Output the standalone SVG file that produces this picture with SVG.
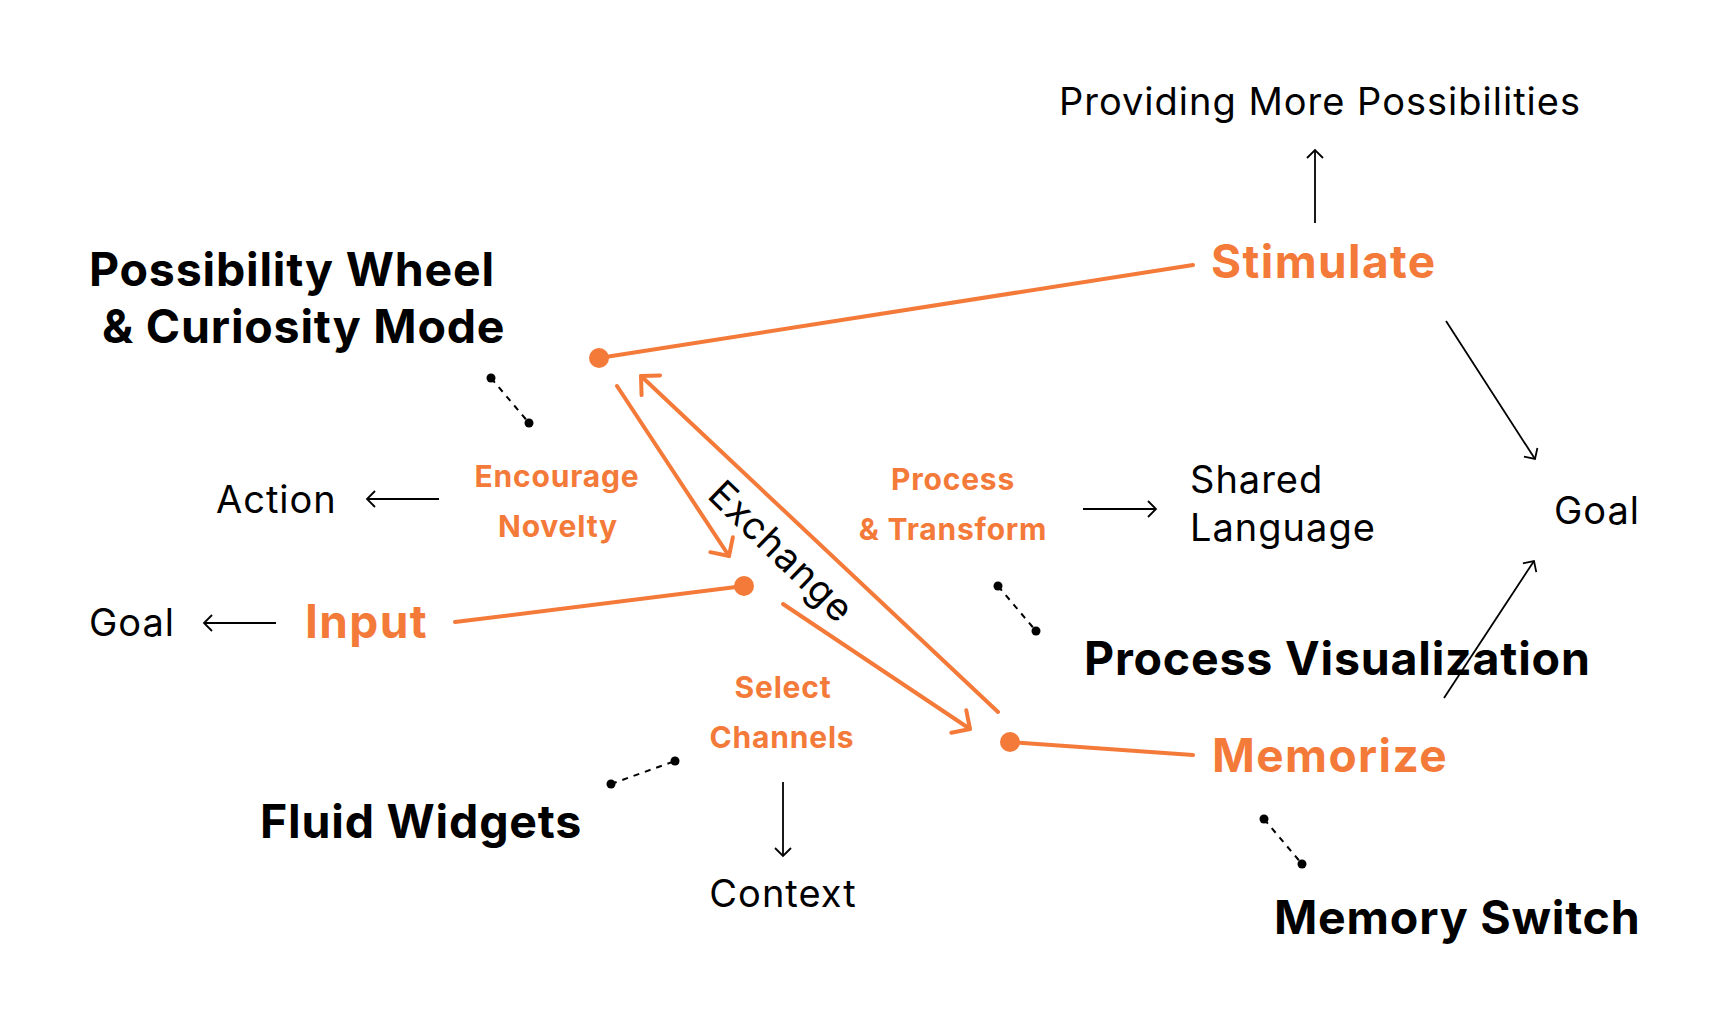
<svg xmlns="http://www.w3.org/2000/svg" width="1731" height="1022" viewBox="0 0 1731 1022">
<style>
.t{font-family:Inter,"Noto Sans","Liberation Sans",sans-serif;}
.big{font-size:46.5px;font-weight:700;fill:#000;letter-spacing:0.8px;}
.ob{font-size:46px;font-weight:700;fill:#F47A3A;letter-spacing:1.4px;}
.os{font-size:30px;font-weight:700;fill:#F47A3A;letter-spacing:0.8px;}
.n{font-size:38px;font-weight:400;fill:#000;letter-spacing:1px;}
.ol{stroke:#F47A3A;stroke-width:4;fill:none;stroke-linecap:round;}
.bl{stroke:#000;stroke-width:1.8;fill:none;}
.dl{stroke:#000;stroke-width:2;fill:none;stroke-dasharray:6 6;}
.od{fill:#F47A3A;}
.bd{fill:#000;}
.m{text-anchor:middle;}
</style>
<defs>
<marker id="ao" markerUnits="userSpaceOnUse" markerWidth="40" markerHeight="40" viewBox="-20 -20 40 40" refX="0" refY="0" orient="auto" overflow="visible">
<path d="M-13.5,-13.5 L0,0 L-13.5,13.5" fill="none" stroke="#F47A3A" stroke-width="4" stroke-linecap="round" stroke-linejoin="round"/>
</marker>
<marker id="ab" markerUnits="userSpaceOnUse" markerWidth="24" markerHeight="24" viewBox="-12 -12 24 24" refX="0" refY="0" orient="auto" overflow="visible">
<path d="M-8,-8 L0,0 L-8,8" fill="none" stroke="#000" stroke-width="1.8"/>
</marker>
</defs>
<rect width="1731" height="1022" fill="#fff"/>
<g id="connectors">
<line class="ol" x1="599" y1="358" x2="1193" y2="265"/>
<line class="ol" x1="455" y1="622" x2="744" y2="586"/>
<line class="ol" x1="1010" y1="742" x2="1193" y2="755"/>
<line class="ol" x1="617" y1="386" x2="729" y2="556" marker-end="url(#ao)"/>
<line class="ol" x1="783" y1="604" x2="970" y2="729" marker-end="url(#ao)"/>
<line class="ol" x1="998" y1="712" x2="641" y2="376" marker-end="url(#ao)"/>
<line class="bl" x1="1315" y1="223" x2="1315" y2="150" marker-end="url(#ab)"/>
<line class="bl" x1="1446" y1="321" x2="1535" y2="459" marker-end="url(#ab)"/>
<line class="bl" x1="1444" y1="698" x2="1534" y2="561" marker-end="url(#ab)"/>
<line class="bl" x1="439" y1="499" x2="367" y2="499" marker-end="url(#ab)"/>
<line class="bl" x1="276" y1="623" x2="204" y2="623" marker-end="url(#ab)"/>
<line class="bl" x1="1083" y1="509" x2="1156" y2="509" marker-end="url(#ab)"/>
<line class="bl" x1="783" y1="782" x2="783" y2="856" marker-end="url(#ab)"/>
<line class="dl" x1="491" y1="378" x2="529" y2="423"/>
<line class="dl" x1="611" y1="784" x2="675" y2="761"/>
<line class="dl" x1="998" y1="586" x2="1036" y2="631"/>
<line class="dl" x1="1264" y1="819" x2="1302" y2="864"/>
<circle class="bd" cx="491" cy="378" r="4.5"/>
<circle class="bd" cx="529" cy="423" r="4.5"/>
<circle class="bd" cx="611" cy="784" r="4.5"/>
<circle class="bd" cx="675" cy="761" r="4.5"/>
<circle class="bd" cx="998" cy="586" r="4.5"/>
<circle class="bd" cx="1036" cy="631" r="4.5"/>
<circle class="bd" cx="1264" cy="819" r="4.5"/>
<circle class="bd" cx="1302" cy="864" r="4.5"/>
<text class="t n m" transform="translate(782,551) rotate(44)" dominant-baseline="central">Exchange</text>
</g>
<g id="dot-wheel"><circle class="od" cx="599" cy="358" r="10"/></g>
<g id="dot-input"><circle class="od" cx="744" cy="586" r="10"/></g>
<g id="dot-memorize"><circle class="od" cx="1010" cy="742" r="10"/></g>
<g id="possibility-wheel"><text class="t big" x="89" y="286">Possibility Wheel</text><text class="t big" x="102" y="343">&amp; Curiosity Mode</text></g>
<g id="stimulate"><text class="t ob" x="1211" y="278">Stimulate</text></g>
<g id="providing"><text class="t n" x="1059" y="115">Providing More Possibilities</text></g>
<g id="encourage"><text class="t os m" x="557" y="487">Encourage</text><text class="t os m" x="558" y="537">Novelty</text></g>
<g id="action"><text class="t n" x="216" y="513">Action</text></g>
<g id="goal-left"><text class="t n" x="89" y="636">Goal</text></g>
<g id="input"><text class="t ob" x="305" y="638">Input</text></g>
<g id="process"><text class="t os m" x="953" y="490">Process</text><text class="t os m" x="953" y="540">&amp; Transform</text></g>
<g id="shared"><text class="t n" x="1190" y="493">Shared</text><text class="t n" x="1190" y="541">Language</text></g>
<g id="goal-right"><text class="t n" x="1554" y="524">Goal</text></g>
<g id="process-vis"><text class="t big" x="1084" y="675">Process Visualization</text></g>
<g id="memorize"><text class="t ob" x="1212" y="772">Memorize</text></g>
<g id="select"><text class="t os m" x="783" y="698">Select</text><text class="t os m" x="782" y="748">Channels</text></g>
<g id="fluid"><text class="t big" x="260" y="838">Fluid Widgets</text></g>
<g id="context"><text class="t n m" x="783" y="907">Context</text></g>
<g id="memory-switch"><text class="t big" x="1274" y="934">Memory Switch</text></g>
</svg>
